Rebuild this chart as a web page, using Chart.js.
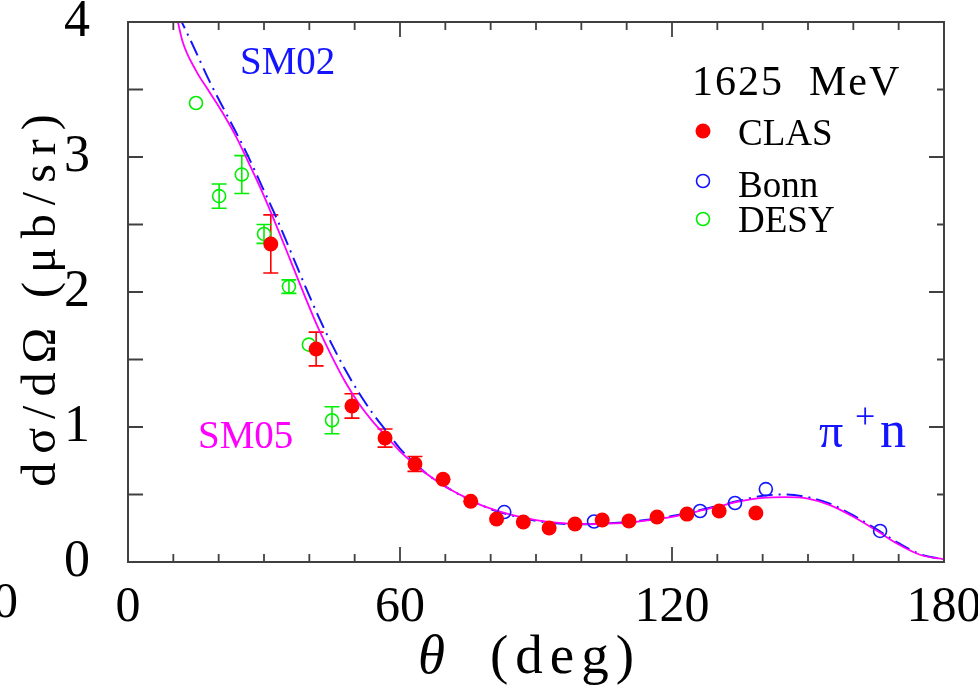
<!DOCTYPE html>
<html>
<head>
<meta charset="utf-8">
<script src="https://cdn.jsdelivr.net/npm/chart.js@4.4.0/dist/chart.umd.min.js"></script>
<style>
  html, body { margin: 0; padding: 0; background: #fff; }
</style>
</head>
<body>
<canvas id="myChart" width="978" height="688"></canvas>
<script>
var ctx = document.getElementById('myChart').getContext('2d');

// tick labels
var xTicks = [0, 60, 120, 180];
var yTicks = [0, 1, 2, 3, 4];

// CLAS (filled red)
var clasTheta = [31.5, 41.5, 49.4, 56.7, 63.3, 69.5, 75.6, 81.3, 87.2, 92.9, 98.6, 104.6, 110.5, 116.7, 123.3, 130.4, 138.5];
var clasVal   = [2.356, 1.578, 1.156, 0.918, 0.726, 0.613, 0.45, 0.318, 0.296, 0.252, 0.281, 0.311, 0.304, 0.333, 0.355, 0.378, 0.363];
var clasErr   = [0.215, 0.125, 0.09, 0.067, 0.055, 0, 0, 0, 0, 0, 0, 0, 0, 0, 0, 0, 0];

// Bonn (open blue)
var bonnTheta = [83.0, 102.8, 126.2, 133.9, 140.7, 165.9];
var bonnVal   = [0.37, 0.30, 0.378, 0.437, 0.54, 0.23];

// DESY (open green)
var desyTheta = [15.0, 20.1, 25.1, 30.0, 35.5, 39.9, 45.0];
var desyVal   = [3.40, 2.71, 2.87, 2.43, 2.04, 1.61, 1.05];
var desyErr   = [0, 0.09, 0.14, 0.07, 0.05, 0, 0.10];

// SM05 (solid magenta)
var sm05Theta = [10.5, 12, 15, 18, 21, 24, 27, 30, 33, 36, 39, 42, 45, 48, 51, 54, 57, 60, 63, 66, 69, 72, 75, 78, 81, 84, 87, 90, 95, 100, 105, 110, 115, 120, 125, 130, 135, 140, 145, 150, 155, 160, 165, 170, 175, 180];
var sm05Val   = [4.08, 3.86, 3.64, 3.48, 3.32, 3.14, 2.93, 2.71, 2.47, 2.22, 1.97, 1.73, 1.52, 1.33, 1.17, 1.04, 0.93, 0.82, 0.73, 0.65, 0.58, 0.52, 0.47, 0.42, 0.385, 0.355, 0.33, 0.31, 0.29, 0.28, 0.285, 0.29, 0.31, 0.335, 0.37, 0.41, 0.45, 0.475, 0.48, 0.47, 0.42, 0.335, 0.235, 0.13, 0.05, 0.02];

// SM02 (dash-dot blue)
var sm02Theta = [11, 14, 18, 22, 26, 30, 33, 36, 39, 42, 45, 48, 51, 54, 57, 60, 63, 66, 69, 72, 75, 78, 81, 84, 87, 90, 95, 100, 105, 110, 115, 120, 125, 130, 135, 140, 145, 150, 155, 160, 165, 170, 175, 180];
var sm02Val   = [4.06, 3.85, 3.56, 3.30, 3.04, 2.75, 2.53, 2.29, 2.05, 1.82, 1.61, 1.42, 1.25, 1.10, 0.97, 0.84, 0.74, 0.65, 0.58, 0.52, 0.465, 0.42, 0.38, 0.35, 0.325, 0.305, 0.285, 0.28, 0.285, 0.295, 0.315, 0.34, 0.375, 0.415, 0.455, 0.49, 0.50, 0.48, 0.43, 0.345, 0.245, 0.14, 0.055, 0.02];

function pts(xs, ys) {
  var out = [];
  for (var i = 0; i < xs.length; i++) out.push({x: xs[i], y: ys[i]});
  return out;
}

var RED = '#ff0000', BLUE = '#1414ff', GREEN = '#00ee00', MAGENTA = '#ff00ff', FRAME = '#404040';
var SERIF = '"Liberation Serif", "Times New Roman", serif';

var errBars = {0: clasErr, 2: desyErr};

var decorations = {
  id: 'decorations',
  beforeDatasetsDraw: function(chart) {
    var c = chart.ctx, xs = chart.scales.x, ys = chart.scales.y;
    c.save();
    c.lineWidth = 1.6;
    Object.keys(errBars).forEach(function(k) {
      var ds = chart.data.datasets[k];
      var err = errBars[k];
      c.strokeStyle = ds.borderColor;
      ds.data.forEach(function(p, i) {
        if (!err[i]) return;
        var px = xs.getPixelForValue(p.x);
        var top = ys.getPixelForValue(p.y + err[i]);
        var bot = ys.getPixelForValue(p.y - err[i]);
        c.beginPath();
        c.moveTo(px, top); c.lineTo(px, bot);
        c.moveTo(px - 7.5, top); c.lineTo(px + 7.5, top);
        c.moveTo(px - 7.5, bot); c.lineTo(px + 7.5, bot);
        c.stroke();
      });
    });
    c.restore();
  },
  afterDraw: function(chart) {
    var c = chart.ctx, a = chart.chartArea, xs = chart.scales.x, ys = chart.scales.y;
    c.save();
    // frame
    c.strokeStyle = FRAME;
    c.lineWidth = 2;
    c.strokeRect(a.left, a.top, a.right - a.left, a.bottom - a.top);
    // inward ticks
    c.lineWidth = 1.8;
    c.beginPath();
    for (var t = 10; t < 180; t += 10) {
      var px = xs.getPixelForValue(t);
      var len = (t % 60 === 0) ? 15 : 8;
      c.moveTo(px, a.bottom); c.lineTo(px, a.bottom - len);
      c.moveTo(px, a.top); c.lineTo(px, a.top + len);
    }
    for (var v = 0.5; v < 4; v += 0.5) {
      var py = ys.getPixelForValue(v);
      c.moveTo(a.left, py); c.lineTo(a.left + 15, py);
      var rl = (v % 1 === 0) ? 15 : 7;
      c.moveTo(a.right, py); c.lineTo(a.right - rl, py);
    }
    c.stroke();

    c.textBaseline = 'alphabetic';

    // stray label of neighbouring panel
    c.fillStyle = '#000';
    c.font = '50px ' + SERIF;
    c.textAlign = 'right';
    c.fillText('0', 18, 617);
    c.textAlign = 'left';

    // x title
    c.font = 'italic 55px ' + SERIF;
    c.fillText('\u03b8', 418, 673);
    c.font = '55px ' + SERIF;
    c.letterSpacing = '7px';
    c.fillText('(deg)', 490, 673);
    c.letterSpacing = '0px';

    // y title
    c.save();
    c.translate(55, 296);
    c.rotate(-Math.PI / 2);
    c.textAlign = 'center';
    c.font = '48px ' + SERIF;
    c.letterSpacing = '9px';
    c.fillText('d\u03c3/d\u03a9 (\u03bcb/sr)', 0, 0);
    c.restore();

    // legend block
    c.fillStyle = '#000';
    c.font = '42px ' + SERIF;
    c.letterSpacing = '2px';
    c.fillText('1625  MeV', 692, 95);
    c.letterSpacing = '0px';
    c.font = '37px ' + SERIF;
    c.fillText('CLAS', 738, 145);
    c.fillText('Bonn', 738, 197);
    c.fillText('DESY', 738, 232);

    c.fillStyle = RED;
    c.beginPath(); c.arc(703, 131, 7.5, 0, Math.PI * 2); c.fill();
    c.lineWidth = 1.6;
    c.strokeStyle = BLUE;
    c.beginPath(); c.arc(703, 181, 6.5, 0, Math.PI * 2); c.stroke();
    c.strokeStyle = GREEN;
    c.beginPath(); c.arc(703, 219, 6.5, 0, Math.PI * 2); c.stroke();

    // curve names
    c.font = '39px ' + SERIF;
    c.fillStyle = BLUE;
    c.fillText('SM02', 240, 74);
    c.fillStyle = MAGENTA;
    c.fillText('SM05', 198, 448);

    // reaction
    c.fillStyle = BLUE;
    c.font = '48px ' + SERIF;
    c.fillText('\u03c0', 819, 447);
    c.font = '36px ' + SERIF;
    c.fillText('+', 855, 428);
    c.font = '52px ' + SERIF;
    c.fillText('n', 880, 447);
    c.restore();
  }
};

var chart = new Chart(ctx, {
  type: 'scatter',
  data: {
    datasets: [
      {
        label: 'CLAS',
        data: pts(clasTheta, clasVal),
        backgroundColor: RED,
        borderColor: RED,
        pointRadius: 7.5,
        pointBorderWidth: 0
      },
      {
        label: 'Bonn',
        data: pts(bonnTheta, bonnVal),
        backgroundColor: 'rgba(0,0,0,0)',
        borderColor: BLUE,
        pointRadius: 6.5,
        pointBorderWidth: 1.6
      },
      {
        label: 'DESY',
        data: pts(desyTheta, desyVal),
        backgroundColor: 'rgba(0,0,0,0)',
        borderColor: GREEN,
        pointRadius: 6.5,
        pointBorderWidth: 1.6
      },
      {
        label: 'SM05',
        data: pts(sm05Theta, sm05Val),
        showLine: true,
        borderColor: MAGENTA,
        borderWidth: 1.8,
        pointRadius: 0,
        cubicInterpolationMode: 'monotone'
      },
      {
        label: 'SM02',
        data: pts(sm02Theta, sm02Val),
        showLine: true,
        borderColor: BLUE,
        borderWidth: 2,
        borderDash: [16, 6, 2, 6],
        pointRadius: 0,
        cubicInterpolationMode: 'monotone'
      }
    ]
  },
  options: {
    responsive: false,
    animation: false,
    layout: { padding: { left: 0, right: 34, top: 22, bottom: 0 } },
    plugins: { legend: { display: false }, tooltip: { enabled: false } },
    scales: {
      x: {
        type: 'linear',
        position: 'bottom',
        min: 0,
        max: 180,
        grid: { display: false },
        border: { display: false },
        afterBuildTicks: function(scale) {
          scale.ticks = xTicks.map(function(v) { return {value: v}; });
        },
        afterFit: function(scale) {
          scale.height = 126;
          scale.paddingLeft = 0;
          scale.paddingRight = 0;
        },
        ticks: {
          padding: 13,
          maxRotation: 0,
          autoSkip: false,
          color: '#000',
          font: { family: SERIF, size: 50, lineHeight: 1 }
        }
      },
      y: {
        type: 'linear',
        position: 'left',
        min: 0,
        max: 4,
        grid: { display: false },
        border: { display: false },
        afterBuildTicks: function(scale) {
          scale.ticks = yTicks.map(function(v) { return {value: v}; });
        },
        afterFit: function(scale) {
          scale.width = 128;
          scale.paddingTop = 0;
          scale.paddingBottom = 0;
        },
        ticks: {
          padding: 30,
          color: '#000',
          font: { family: SERIF, size: 52, lineHeight: 1 }
        }
      }
    }
  },
  plugins: [decorations]
});
</script>
</body>
</html>
